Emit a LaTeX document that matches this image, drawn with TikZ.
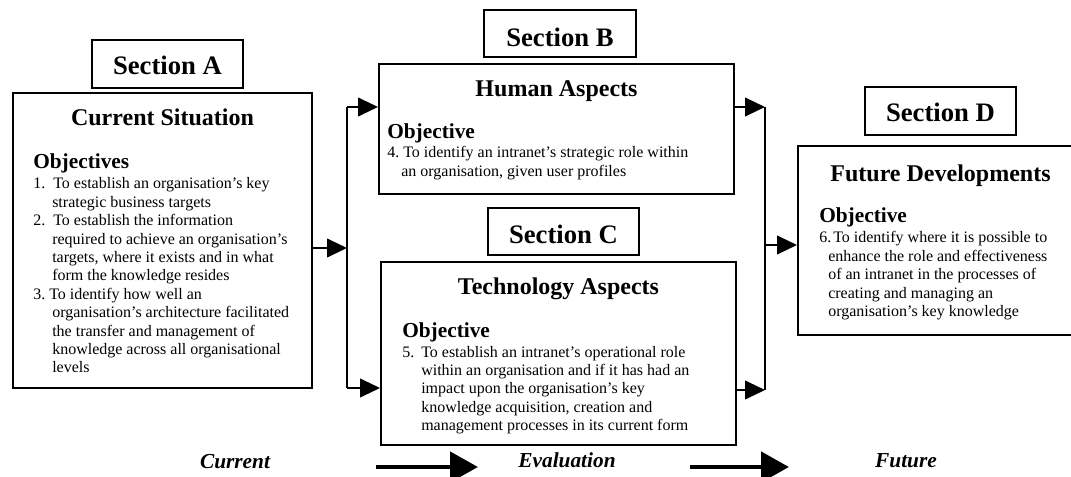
\documentclass[tikz,border=0pt]{standalone}
\usepackage{fontspec}
\setmainfont{Liberation Serif}
\usetikzlibrary{arrows.meta,fit}
\begin{document}
\begin{tikzpicture}[x=0.75pt,y=-0.75pt,
  frame/.style={draw=black,line width=1.5pt,inner sep=0pt},
  sectlabel/.style={font=\fontsize{20}{24}\selectfont\bfseries,anchor=base,inner sep=0pt},
  boxtitle/.style={font=\fontsize{18}{21}\selectfont\bfseries,anchor=base,inner sep=0pt},
  objhead/.style={font=\fontsize{16}{19}\selectfont\bfseries,anchor=base west,inner sep=0pt},
  objbody/.style={font=\fontsize{12}{13.8}\selectfont,anchor=base west,inner sep=0pt},
  stage/.style={font=\fontsize{16}{19}\selectfont\bfseries\itshape,anchor=base,inner sep=0pt},
  link/.style={line width=1.5pt},
  conn/.style={link,-{Triangle[length=15pt,width=14pt]}},
  bigarrow/.style={line width=3.5pt,-{Triangle[length=21pt,width=22.5pt]}}
]
\clip (0,0) rectangle (1071,477);

% ---- Section A: current situation
\node[frame,fit={(92,40) (243,88)}] (labA) {};
\node[sectlabel] (labAtxt) at (167.5,75) {Section A};
\node[frame,fit={(13,93) (312,388)}] (A) {};
\node[boxtitle] (Atitle) at (162.5,126) {Current Situation};
\node[objhead] (Ahead) at (33,169) {Objectives};
\node[objbody] (Atext) at (33,189) {\begin{tabular}[t]{@{}l@{}}
\makebox[15pt][l]{1.}To establish an organisation’s key\\
\hspace*{14.25pt}strategic business targets\\
\makebox[15pt][l]{2.}To establish the information\\
\hspace*{14.25pt}required to achieve an organisation’s\\
\hspace*{14.25pt}targets, where it exists and in what\\
\hspace*{14.25pt}form the knowledge resides\\
\makebox[12pt][l]{3.}To identify how well an\\
\hspace*{14.25pt}organisation’s architecture facilitated\\
\hspace*{14.25pt}the transfer and management of\\
\hspace*{14.25pt}knowledge across all organisational\\
\hspace*{14.25pt}levels
\end{tabular}};

% ---- Section B: human aspects
\node[frame,fit={(484,10) (636,57)}] (labB) {};
\node[sectlabel] (labBtxt) at (560,47) {Section B};
\node[frame,fit={(379,64) (734,194)}] (B) {};
\node[boxtitle] (Btitle) at (556.5,97) {Human Aspects};
\node[objhead] (Bhead) at (387,139) {Objective};
\node[objbody] (Btext) at (387,158) {\begin{tabular}[t]{@{}l@{}}
\makebox[12pt][l]{4.}To identify an intranet’s strategic role within\\
\hspace*{10.5pt}an organisation, given user profiles
\end{tabular}};

% ---- Section C: technology aspects
\node[frame,fit={(488,208) (639,255)}] (labC) {};
\node[sectlabel] (labCtxt) at (563.5,244) {Section C};
\node[frame,fit={(381,262) (736,445)}] (C) {};
\node[boxtitle] (Ctitle) at (558.5,295) {Technology Aspects};
\node[objhead] (Chead) at (402,338) {Objective};
\node[objbody] (Ctext) at (402,357) {\begin{tabular}[t]{@{}l@{}}
\makebox[14.25pt][l]{5.}To establish an intranet’s operational role\\
\hspace*{14.25pt}within an organisation and if it has had an\\
\hspace*{14.25pt}impact upon the organisation’s key\\
\hspace*{14.25pt}knowledge acquisition, creation and\\
\hspace*{14.25pt}management processes in its current form
\end{tabular}};

% ---- Section D: future developments
\node[frame,fit={(865,87) (1016,135)}] (labD) {};
\node[sectlabel] (labDtxt) at (940.5,122) {Section D};
\node[frame,fit={(798,146) (1083,335)}] (D) {};
\node[boxtitle] (Dtitle) at (940.5,182) {Future Developments};
\node[objhead] (Dhead) at (819,223) {Objective};
\node[objbody] (Dtext) at (819,243) {\begin{tabular}[t]{@{}l@{}}
\makebox[10.5pt][l]{6.}To identify where it is possible to\\
\hspace*{6.75pt}enhance the role and effectiveness\\
\hspace*{6.75pt}of an intranet in the processes of\\
\hspace*{6.75pt}creating and managing an\\
\hspace*{6.75pt}organisation’s key knowledge
\end{tabular}};

% ---- connectors: A splits to B and C, B and C merge into D
\coordinate (jl)  at (347,248);
\coordinate (jlt) at (347,107);
\coordinate (jlb) at (347,388);
\coordinate (jr)  at (765,245);
\coordinate (jrt) at (765,107);
\coordinate (jrb) at (765,390);

\draw[conn] (A.east |- jl) -- (jl);
\draw[link] (jlt) -- (jlb);
\draw[conn] (jlt) -- (B.west |- jlt);
\draw[conn] (jlb) -- (C.west |- jlb);

\draw[conn] (B.east |- jrt) -- (jrt);
\draw[conn] (C.east |- jrb) -- (jrb);
\draw[link] (jrt) -- (jrb);
\draw[conn] (jr) -- (D.west |- jr);

% ---- stage line along the bottom
\node[stage] (cur) at (235,468) {Current};
\node[stage] (eva) at (567,467) {Evaluation};
\node[stage] (fut) at (906,467) {Future};
\coordinate (a1s) at (376,467);
\coordinate (a1e) at (478,467);
\coordinate (a2s) at (690,467);
\coordinate (a2e) at (789,467);
\draw[bigarrow] (a1s) -- (a1e);
\draw[bigarrow] (a2s) -- (a2e);
\end{tikzpicture}
\end{document}
